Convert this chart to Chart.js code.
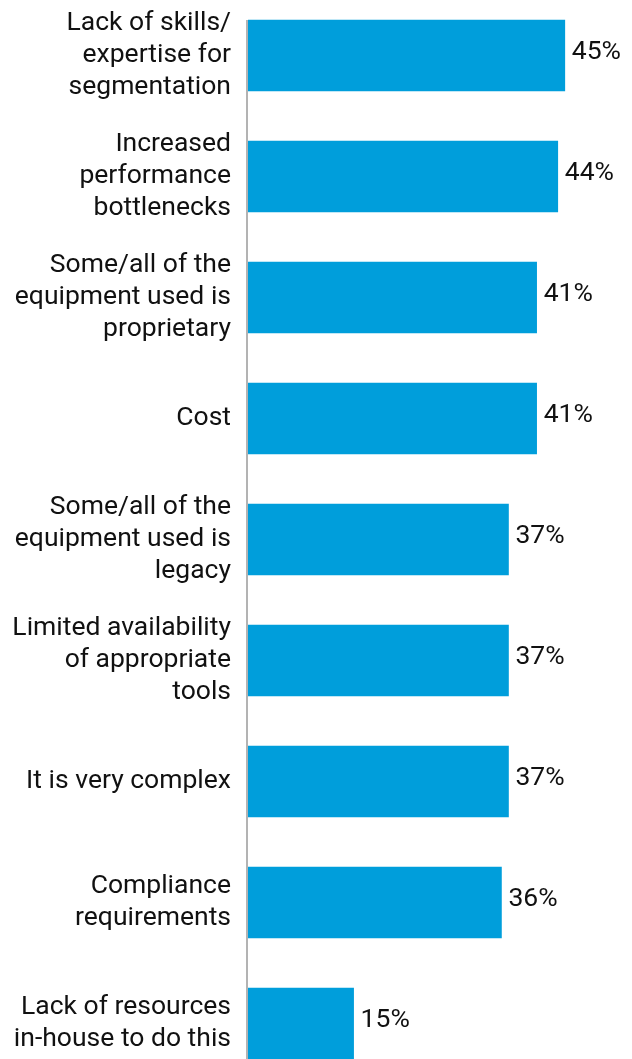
<!DOCTYPE html>
<html>
<head>
<meta charset="utf-8">
<script src="https://cdn.jsdelivr.net/npm/chart.js@4"></script>
<style>
  html, body { margin: 0; padding: 0; background: #fff; overflow: hidden; }
  #wrap { position: absolute; left: 0; top: -5px; width: 632px; height: 1089px; }
</style>
</head>
<body>
<div id="wrap"><canvas id="grafico"></canvas></div>
<script>
const categorias = [
  ['Lack of skills/', 'expertise for', 'segmentation'],
  ['Increased', 'performance', 'bottlenecks'],
  ['Some/all of the', 'equipment used is', 'proprietary'],
  ['Cost'],
  ['Some/all of the', 'equipment used is', 'legacy'],
  ['Limited availability', 'of appropriate', 'tools'],
  ['It is very complex'],
  ['Compliance', 'requirements'],
  ['Lack of resources', 'in-house to do this']
];
const valores = [45, 44, 41, 41, 37, 37, 37, 36, 15];

// eixo vertical cinza a partir do topo da primeira barra
const linhaEixo = {
  id: 'linhaEixo',
  afterDatasetsDraw(chart) {
    const ctx = chart.ctx;
    const barra = chart.getDatasetMeta(0).data[0];
    const x = chart.scales.x.getPixelForValue(0);
    ctx.save();
    ctx.strokeStyle = '#b3b3b3';
    ctx.lineWidth = 2;
    ctx.beginPath();
    ctx.moveTo(x - 1, barra.y - barra.height / 2);
    ctx.lineTo(x - 1, chart.chartArea.bottom);
    ctx.stroke();
    ctx.restore();
  }
};

// rótulos de valor à direita das barras
const rotulos = {
  id: 'rotulos',
  afterDatasetsDraw(chart) {
    const ctx = chart.ctx;
    ctx.save();
    ctx.font = '26.5px Roboto';
    ctx.fillStyle = '#111';
    ctx.textAlign = 'left';
    ctx.textBaseline = 'middle';
    chart.getDatasetMeta(0).data.forEach((barra, i) => {
      ctx.fillText(valores[i] + '%', barra.x + 7, barra.y - 3);
    });
    ctx.restore();
  }
};

new Chart(document.getElementById('grafico'), {
  type: 'bar',
  data: {
    labels: categorias,
    datasets: [{
      data: valores,
      backgroundColor: '#009edb',
      barThickness: 71
    }]
  },
  options: {
    indexAxis: 'y',
    responsive: true,
    maintainAspectRatio: false,
    animation: false,
    layout: { padding: { left: 0, right: 32, top: 0, bottom: 0 } },
    plugins: { legend: { display: false }, tooltip: { enabled: false } },
    scales: {
      x: {
        display: false,
        min: 0,
        max: 50
      },
      y: {
        grid: { display: false },
        border: { display: false },
        afterFit(scale) {
          scale.width = 248;
          scale.paddingTop = 0;
          scale.paddingBottom = 0;
        },
        ticks: {
          color: '#111',
          padding: 9,
          font: { family: 'Roboto', size: 26.5, lineHeight: 1.2 }
        }
      }
    }
  },
  plugins: [linhaEixo, rotulos]
});
</script>
</body>
</html>
